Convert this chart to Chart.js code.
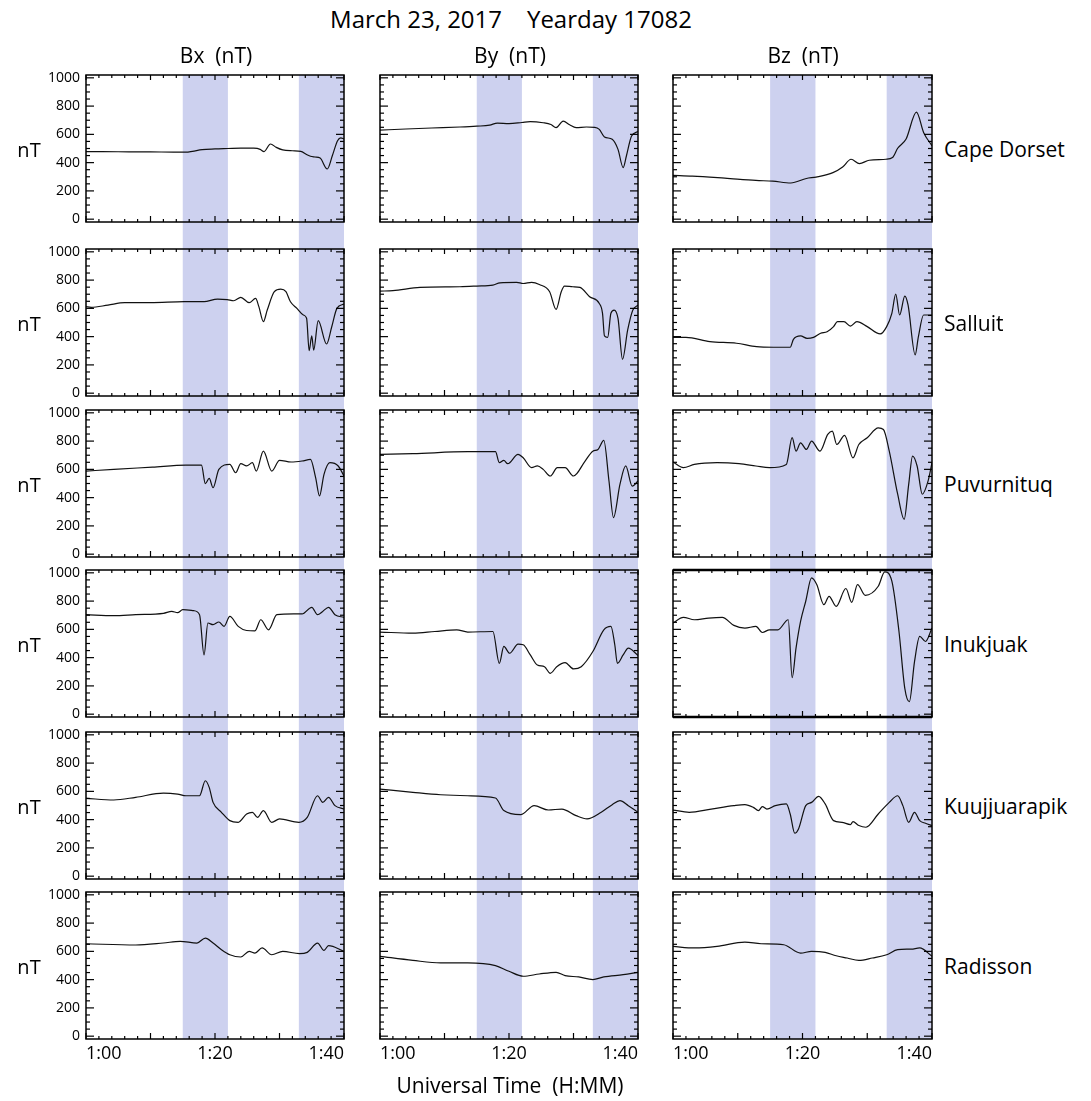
<!DOCTYPE html>
<html>
<head>
<meta charset="utf-8">
<script src="https://cdn.jsdelivr.net/npm/chart.js@4.4.1/dist/chart.umd.min.js"></script>
<style>
  body { margin: 0; background: #fff; }
  #page { position: relative; width: 1091px; height: 1101px; font-family: "Open Sans", sans-serif; color: #000; }
  canvas { position: absolute; }
  .txt { position: absolute; white-space: pre; line-height: 1; }
</style>
</head>
<body>
<div id="page"></div>
<script>
// ===== DATA =====
const titleText = "March 23, 2017    Yearday 17082";
const componentNames = ["Bx  (nT)", "By  (nT)", "Bz  (nT)"];
const stationNames = ["Cape Dorset", "Salluit", "Puvurnituq", "Inukjuak", "Kuujjuarapik", "Radisson"];
const xAxisTitle = "Universal Time  (H:MM)";
const unitLabel = "nT";

// minutes after 1:00 UT
const xLabelTicks = [0, 20, 40];
const xMajorTicks = [0, 10, 20, 30, 40];
const xMinorTicks = [2, 4, 6, 8, 12, 14, 16, 18, 22, 24, 26, 28, 32, 34, 36, 38];
const yLabelTicks = [0, 200, 400, 600, 800, 1000];
const yMinorTicks = [50, 100, 150, 250, 300, 350, 450, 500, 550, 650, 700, 750, 850, 900, 950];
const shadedBands = [[15, 22], [33, 40]];

// [minute, nT]
const capeDorsetBx = [[0,478],[5,477],[10,476],[14,474],[15.5,474],[16.5,480],[18,492],[20,497],[22,500],[24,503],[26,502],[27,494],[27.6,478],[28.6,532],[29.5,508],[30.5,490],[32,484],[33.3,480],[34.2,458],[34.8,445],[35.5,440],[36.3,432],[37.4,355],[38.2,450],[39,555],[39.5,575],[40,568]];
const capeDorsetBy = [[0,630],[4,638],[8,645],[12.4,652],[15,658],[17,665],[18.2,680],[20,676],[22,684],[23.3,690],[25.3,682],[26.5,670],[27.3,648],[28.4,694],[29.4,668],[30.4,648],[32,652],[33.3,650],[34,635],[34.8,582],[36,565],[36.9,494],[37.7,365],[38.2,447],[39,588],[40,620]];
const capeDorsetBz = [[0,310],[3,305],[8,290],[12.8,274],[15.4,269],[18.2,256],[20.6,288],[22.1,298],[24.7,329],[26.2,369],[27.5,424],[28.8,393],[30.3,417],[32.9,424],[33.9,436],[34.7,502],[36,567],[37.6,757],[38.7,614],[40,519]];

const salluitBx = [[0,612],[0.8,607],[3.4,623],[6,640],[10,640],[15.2,647],[18.3,648],[20.4,666],[21.9,662],[22.9,654],[24,678],[25.3,640],[26.3,670],[26.8,612],[27.5,506],[28.1,588],[29.2,718],[30.2,736],[31,718],[31.7,647],[32.7,600],[33.7,553],[34.2,530],[34.6,301],[35,405],[35.3,305],[36,513],[37.3,348],[38.1,470],[38.9,600],[40,630]];
const salluitBy = [[0,722],[2,725],[6.2,748],[12.4,753],[15,758],[17.5,765],[18.6,781],[21.2,784],[22.2,776],[23.5,784],[24.7,769],[26.3,718],[27.3,593],[28.1,718],[28.6,758],[29.9,753],[31,748],[32.5,682],[34,635],[34.5,565],[34.8,405],[35.3,395],[35.8,565],[36.3,588],[36.9,529],[37.6,240],[38.4,447],[39.2,588],[40,623]];
const salluitBz = [[0,395],[2,395],[5.7,365],[9.8,353],[12.9,329],[15.5,325],[18.1,325],[18.6,381],[19.7,405],[20.7,388],[21.7,395],[22.8,424],[23.8,435],[24.8,471],[25.4,506],[26.4,506],[27.4,475],[28.4,506],[30,471],[32,419],[33,471],[33.8,565],[34.4,701],[35,553],[35.8,687],[36.3,624],[37.4,271],[37.9,400],[38.7,553],[40,553]];

const puvurnituqBx = [[0,588],[4.3,600],[10.3,616],[15.5,630],[17.9,630],[18.5,499],[19.1,536],[19.7,470],[20.6,600],[22.3,635],[23.2,576],[24,640],[24.9,624],[25.8,647],[26.4,588],[27.5,729],[28.8,588],[30,664],[31.8,652],[33.5,659],[34.8,670],[35.6,541],[36.2,412],[36.9,565],[37.8,647],[39.1,624],[40,553]];
const puvurnituqBy = [[0,706],[5.1,711],[13.6,725],[17.9,725],[18.5,647],[19.2,664],[19.8,640],[21.4,706],[22.2,682],[23.5,612],[24.4,624],[25.3,600],[26.4,553],[27.5,612],[28.7,612],[30,553],[31.8,659],[33,729],[33.8,741],[34.7,805],[35.5,518],[36.2,259],[37.2,494],[38.1,624],[39.1,482],[40,518]];
const puvurnituqBz = [[0,652],[1.6,612],[3.3,635],[6.8,647],[10.2,640],[12.8,624],[14.9,612],[17.5,635],[18.4,824],[19,729],[19.7,788],[20.6,741],[21.4,800],[22.7,729],[23.9,847],[24.6,870],[25.3,776],[26.5,841],[27.8,682],[28.7,776],[30,824],[31.7,894],[32.5,882],[33.4,729],[34.7,424],[35.7,247],[36.4,494],[37,694],[37.7,624],[38.5,424],[39.4,518],[40,647]];

const inukjuakBx = [[0,704],[4.3,697],[7.7,704],[12,713],[13.3,727],[14.2,718],[15,739],[16.7,732],[17.6,704],[18.3,419],[18.9,645],[19.7,633],[20.6,652],[21.4,621],[22.3,692],[23.6,621],[24.9,592],[26.2,590],[27.1,668],[28.3,597],[29.6,704],[32.2,709],[33.5,709],[35,756],[35.9,704],[36.7,727],[37.6,756],[38.6,704],[40,685]];
const inukjuakBy = [[0,581],[5.1,573],[8.5,585],[11.9,597],[13.6,581],[17.5,585],[18.5,360],[19.2,479],[20.1,431],[21.4,495],[22.2,491],[23.3,419],[24.4,348],[25.5,336],[26.4,289],[27.4,336],[28.7,365],[30,320],[31.2,336],[33,443],[34.7,597],[35.8,621],[36.4,491],[36.8,360],[37.7,419],[38.5,467],[40,415]];
const inukjuakBz = [[0,645],[1.6,685],[3.3,668],[5.5,680],[7.6,685],[9.4,628],[11.1,609],[12.8,621],[13.8,578],[14.9,597],[16.2,597],[17.8,668],[18.4,258],[19,467],[19.7,656],[20.5,799],[21.4,964],[22.2,917],[23.3,775],[24.1,834],[25.2,763],[26.7,889],[27.6,791],[28.5,917],[29.7,841],[31.7,905],[32.7,1007],[33.8,941],[34.9,585],[35.8,182],[36.5,88],[37.3,372],[38.1,550],[39,514],[40,609]];

const kuujjuarapikBx = [[0,551],[4.3,539],[7.7,558],[12,588],[14.2,581],[15.5,569],[17.6,569],[18.5,675],[19.1,628],[19.7,522],[21,452],[22.3,393],[23.6,381],[24.9,440],[25.8,452],[26.6,416],[27.5,464],[28.8,381],[30,405],[33,381],[34.3,416],[35.9,569],[36.7,522],[37.6,558],[38.6,499],[40,475]];
const kuujjuarapikBy = [[0,616],[5.1,593],[9.4,576],[13.6,569],[17.9,553],[19.2,464],[21.8,435],[23.9,499],[26.1,468],[28.2,475],[30.4,428],[32.1,405],[34.3,452],[36,506],[37.2,534],[38.5,499],[40,452]];
const kuujjuarapikBz = [[0,468],[2.5,452],[5.9,475],[9.4,499],[11.1,506],[12.4,487],[13.2,464],[13.8,492],[14.5,475],[15.8,499],[17.5,511],[18.1,440],[18.8,304],[19.4,336],[20.5,499],[21.4,522],[22.5,565],[23.5,511],[24.8,393],[26.1,381],[27.4,365],[27.8,386],[28.7,358],[29.8,346],[31.7,440],[33.4,522],[34.7,569],[35.5,499],[36.4,381],[37.3,452],[38.1,393],[39,374],[40,358]];

const radissonBx = [[0,654],[7.7,645],[12,659],[14.6,671],[17.2,659],[18.5,694],[19.7,659],[21,612],[22.3,576],[24,560],[25.3,600],[26.2,588],[27.3,624],[28.8,576],[30.5,600],[33.1,584],[34.3,593],[35.9,659],[36.9,607],[37.6,640],[40,600]];
const radissonBy = [[0,565],[5.1,536],[9.4,518],[13.6,518],[17.9,499],[20,459],[22.2,424],[24.7,440],[27.3,452],[28.7,428],[30.8,419],[33,400],[34.7,419],[37.7,435],[40,452]];
const radissonBz = [[0,635],[3.3,624],[6.8,635],[11.1,666],[13.6,654],[17.1,647],[19.7,588],[21.4,600],[23.5,593],[25.2,569],[26.9,553],[28.7,536],[30.8,553],[33,576],[34.7,612],[36.8,616],[38.1,624],[40,565]];

const panelSeries = [
    [capeDorsetBx, capeDorsetBy, capeDorsetBz],
    [salluitBx, salluitBy, salluitBz],
    [puvurnituqBx, puvurnituqBy, puvurnituqBz],
    [inukjuakBx, inukjuakBy, inukjuakBz],
    [kuujjuarapikBx, kuujjuarapikBy, kuujjuarapikBz],
    [radissonBx, radissonBy, radissonBz]
];

// ===== LAYOUT =====
const colLeft = [86, 380, 673];
const rowTop = [75, 249, 410, 570, 732, 892];
const frameW = 258, frameH = 147;
const bandColor = "#cdd1ef";
const page = document.getElementById("page");

function addText(str, x, y, size, align) {
    const el = document.createElement("div");
    el.className = "txt";
    el.textContent = str;
    el.style.fontSize = size + "px";
    el.style.top = (y - size / 2) + "px";
    if (align === "left") el.style.left = x + "px";
    else { el.style.left = (x - 300) + "px"; el.style.width = "600px"; el.style.textAlign = "center"; }
    page.appendChild(el);
}

// ===== FRAME / TICKS / BANDS PLUGIN =====
const framePlugin = {
    id: "frame",
    beforeDatasetsDraw(chart, args, opts) {
        const { ctx, chartArea: a, scales: { x } } = chart;
        ctx.save();
        ctx.fillStyle = bandColor;
        shadedBands.forEach(([t0, t1]) => {
            const x0 = x.getPixelForValue(t0), x1 = x.getPixelForValue(t1);
            ctx.fillRect(x0, a.top, x1 - x0, a.bottom - a.top + opts.extendBelow);
        });
        ctx.restore();
    },
    afterDatasetsDraw(chart, args, opts) {
        const { ctx, chartArea: a, scales: { x, y } } = chart;
        ctx.save();
        ctx.strokeStyle = "#000";
        ctx.lineWidth = 1.2;
        const line = (x0, y0, x1, y1) => { ctx.beginPath(); ctx.moveTo(x0, y0); ctx.lineTo(x1, y1); ctx.stroke(); };
        yLabelTicks.forEach(v => { const p = y.getPixelForValue(v); line(a.left, p, a.left + 8, p); line(a.right, p, a.right - 8, p); });
        yMinorTicks.forEach(v => { const p = y.getPixelForValue(v); line(a.left, p, a.left + 4, p); line(a.right, p, a.right - 4, p); });
        xMajorTicks.forEach(v => { const p = x.getPixelForValue(v); line(p, a.bottom, p, a.bottom - 6); line(p, a.top, p, a.top + 5); });
        xMinorTicks.forEach(v => { const p = x.getPixelForValue(v); line(p, a.bottom, p, a.bottom - 3); line(p, a.top, p, a.top + 3); });
        ctx.lineWidth = 1.5;
        ctx.strokeRect(a.left, a.top, a.right - a.left, a.bottom - a.top);
        if (opts.heavy) {
            ctx.lineWidth = 2.5;
            line(a.left, a.top, a.right, a.top);
            line(a.left, a.bottom, a.right, a.bottom);
        }
        ctx.restore();
    }
};

function zeroPad(s) { s.paddingTop = 0; s.paddingBottom = 0; s.paddingLeft = 0; s.paddingRight = 0; }

// ===== BUILD PANELS =====
panelSeries.forEach((rowSeries, r) => {
    const lastRow = r === panelSeries.length - 1;
    const gapBelow = lastRow ? 0 : rowTop[r + 1] - rowTop[r] - frameH;
    rowSeries.forEach((series, c) => {
        const firstCol = c === 0;
        const yW = firstCol ? 50 : 0;
        const padL = firstCol ? 0 : 4, padR = 6, padT = 8;
        const padB = lastRow ? 0 : gapBelow;
        const xH = lastRow ? 36 : 0;
        const cw = frameW + (c === 2 ? 1 : 0);

        const canvas = document.createElement("canvas");
        canvas.width = cw + yW + padL + padR;
        canvas.height = frameH + padT + padB + xH;
        canvas.style.left = (colLeft[c] - yW - padL) + "px";
        canvas.style.top = (rowTop[r] - padT) + "px";
        page.appendChild(canvas);

        new Chart(canvas, {
            type: "line",
            data: {
                datasets: [{
                    data: series.map(([t, v]) => ({ x: t, y: v })),
                    borderColor: "#111",
                    borderWidth: 1.2,
                    pointRadius: 0,
                    cubicInterpolationMode: "monotone",
                    fill: false
                }]
            },
            options: {
                responsive: false,
                animation: false,
                events: [],
                layout: { padding: { left: padL, right: padR, top: padT, bottom: padB } },
                plugins: {
                    legend: { display: false },
                    tooltip: { enabled: false },
                    frame: { extendBelow: gapBelow, heavy: r === 3 && c === 2 }
                },
                scales: {
                    x: {
                        type: "linear", min: 0, max: 40,
                        grid: { display: false, drawTicks: false },
                        border: { display: false },
                        afterBuildTicks: s => { s.ticks = xLabelTicks.map(v => ({ value: v })); },
                        afterFit: s => { s.height = xH; zeroPad(s); },
                        ticks: {
                            display: lastRow, padding: 4, align: "inner", maxRotation: 0, autoSkip: false,
                            color: "#000", font: { family: "Open Sans", size: 18 },
                            callback: v => "1:" + String(v).padStart(2, "0")
                        }
                    },
                    y: {
                        type: "linear", min: -20, max: 1020,
                        grid: { display: false, drawTicks: false },
                        border: { display: false },
                        afterBuildTicks: s => { s.ticks = yLabelTicks.map(v => ({ value: v })); },
                        afterFit: s => { s.width = yW; zeroPad(s); },
                        ticks: {
                            display: firstCol, padding: 6, color: "#000",
                            font: { family: "Open Sans", size: 14 },
                            callback: v => String(v)
                        }
                    }
                }
            },
            plugins: [framePlugin]
        });
    });
});

// ===== TEXT =====
addText(titleText, 511, 19, 24, "center");
componentNames.forEach((name, c) => addText(name, colLeft[c] + frameW / 2 + 1, 55, 21, "center"));
stationNames.forEach((name, r) => {
    const mid = rowTop[r] + frameH / 2;
    addText(unitLabel, 29, mid + 1, 20, "center");
    addText(name, 944, mid + 1, 21, "left");
});
addText(xAxisTitle, 510, 1085, 21, "center");
</script>
</body>
</html>
